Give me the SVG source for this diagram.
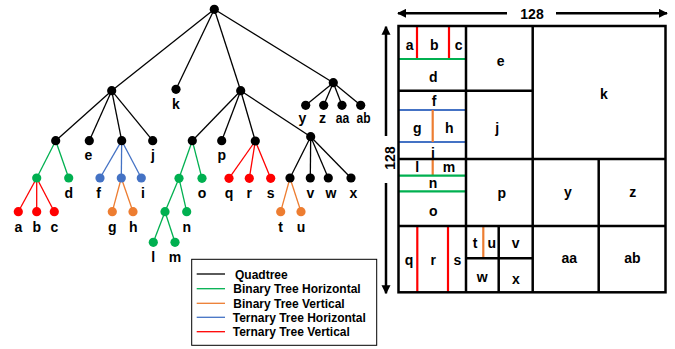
<svg xmlns="http://www.w3.org/2000/svg" width="675" height="349" viewBox="0 0 675 349">
<defs>
<marker id="ah" viewBox="0 0 10 10" refX="9" refY="5" markerWidth="3.6" markerHeight="3.8" orient="auto" markerUnits="strokeWidth">
<path d="M0,0 L10,5 L0,10 z" fill="#000"/>
</marker>
<style>
text{font-family:"Liberation Sans",Arial,sans-serif;font-weight:bold;fill:#000;}
.lb{font-size:14px;text-anchor:middle;}
.lg{font-size:12px;}
.e{stroke:#000;stroke-width:1.3;fill:none;}
.eg{stroke:#00B050;stroke-width:1.3;}
.er{stroke:#FF0000;stroke-width:1.3;}
.eb{stroke:#4472C4;stroke-width:1.3;}
.eo{stroke:#ED7D31;stroke-width:1.3;}
.nk{fill:#000;}
.ng{fill:#00B050;}
.nr{fill:#FF0000;}
.nb{fill:#4472C4;}
.no{fill:#ED7D31;}
.gb{stroke:#000;stroke-width:2.5;fill:none;}
.cg{stroke:#00B050;stroke-width:2.2;}
.cr{stroke:#FF0000;stroke-width:2.2;}
.cb{stroke:#4472C4;stroke-width:2.2;}
.co{stroke:#ED7D31;stroke-width:2.2;}
.ar{stroke:#000;stroke-width:2.5;marker-end:url(#ah);}
</style>
</defs>
<rect width="675" height="349" fill="#fff"/>

<g id="connectors">
<line class="e" x1="214.3" y1="9.3" x2="111.7" y2="90.7"/>
<line class="e" x1="214.3" y1="9.3" x2="176" y2="89.3"/>
<line class="e" x1="214.3" y1="9.3" x2="240.7" y2="90.7"/>
<line class="e" x1="214.3" y1="9.3" x2="333.3" y2="82.7"/>
<line class="e" x1="333.3" y1="82.7" x2="305.7" y2="105.3"/>
<line class="e" x1="333.3" y1="82.7" x2="323.7" y2="105.3"/>
<line class="e" x1="333.3" y1="82.7" x2="342" y2="105.3"/>
<line class="e" x1="333.3" y1="82.7" x2="360.7" y2="105.3"/>
<line class="e" x1="111.7" y1="90.7" x2="55.7" y2="140.7"/>
<line class="e" x1="111.7" y1="90.7" x2="89.3" y2="140.7"/>
<line class="e" x1="111.7" y1="90.7" x2="121.7" y2="140.7"/>
<line class="e" x1="111.7" y1="90.7" x2="152.7" y2="140.7"/>
<line class="e" x1="240.7" y1="90.7" x2="192.3" y2="140.7"/>
<line class="e" x1="240.7" y1="90.7" x2="221.7" y2="140.7"/>
<line class="e" x1="240.7" y1="90.7" x2="255.3" y2="141"/>
<line class="e" x1="240.7" y1="90.7" x2="310.7" y2="136.7"/>
<line class="eg" x1="55.7" y1="140.7" x2="36.7" y2="178"/>
<line class="eg" x1="55.7" y1="140.7" x2="68.7" y2="178"/>
<line class="er" x1="36.7" y1="178" x2="18.3" y2="211.7"/>
<line class="er" x1="36.7" y1="178" x2="36.7" y2="211.7"/>
<line class="er" x1="36.7" y1="178" x2="54.3" y2="211.7"/>
<line class="eb" x1="121.7" y1="140.7" x2="100" y2="178"/>
<line class="eb" x1="121.7" y1="140.7" x2="121.3" y2="178"/>
<line class="eb" x1="121.7" y1="140.7" x2="141.3" y2="178"/>
<line class="eo" x1="121.3" y1="178" x2="112.3" y2="211.7"/>
<line class="eo" x1="121.3" y1="178" x2="133" y2="211.7"/>
<line class="eg" x1="192.3" y1="140.7" x2="179" y2="178.3"/>
<line class="eg" x1="192.3" y1="140.7" x2="202" y2="178.3"/>
<line class="eg" x1="179" y1="178.3" x2="165" y2="211.7"/>
<line class="eg" x1="179" y1="178.3" x2="186.7" y2="211.7"/>
<line class="eg" x1="165" y1="211.7" x2="153.3" y2="242.3"/>
<line class="eg" x1="165" y1="211.7" x2="175" y2="242.3"/>
<line class="er" x1="255.3" y1="141" x2="229" y2="178.3"/>
<line class="er" x1="255.3" y1="141" x2="249.3" y2="178.3"/>
<line class="er" x1="255.3" y1="141" x2="270.7" y2="178.3"/>
<line class="e" x1="310.7" y1="136.7" x2="290" y2="178"/>
<line class="e" x1="310.7" y1="136.7" x2="310.3" y2="178"/>
<line class="e" x1="310.7" y1="136.7" x2="328.3" y2="178"/>
<line class="e" x1="310.7" y1="136.7" x2="351" y2="178"/>
<line class="eo" x1="290" y1="178" x2="280.7" y2="211.7"/>
<line class="eo" x1="290" y1="178" x2="301" y2="211.7"/>
</g>

<g id="tree-nodes">
<g id="n-root"><circle class="nk" cx="214.3" cy="9.3" r="4.6"/></g>
<g id="n-L"><circle class="nk" cx="111.7" cy="90.7" r="4.6"/></g>
<g id="n-k"><circle class="nk" cx="176" cy="89.3" r="4.6"/><text class="lb" x="176" y="109">k</text></g>
<g id="n-M"><circle class="nk" cx="240.7" cy="90.7" r="4.6"/></g>
<g id="n-R"><circle class="nk" cx="333.3" cy="82.7" r="4.6"/></g>
<g id="n-y"><circle class="nk" cx="305.7" cy="105.3" r="4.6"/><text class="lb" x="302.5" y="123">y</text></g>
<g id="n-z"><circle class="nk" cx="323.7" cy="105.3" r="4.6"/><text class="lb" x="322.5" y="123">z</text></g>
<g id="n-aa"><circle class="nk" cx="342" cy="105.3" r="4.6"/><text class="lb" x="342.5" y="123" textLength="13.5" lengthAdjust="spacingAndGlyphs">aa</text></g>
<g id="n-ab"><circle class="nk" cx="360.7" cy="105.3" r="4.6"/><text class="lb" x="363.5" y="123" textLength="14" lengthAdjust="spacingAndGlyphs">ab</text></g>
<g id="n-LA"><circle class="nk" cx="55.7" cy="140.7" r="4.6"/></g>
<g id="n-e"><circle class="nk" cx="89.3" cy="140.7" r="4.6"/><text class="lb" x="88.5" y="159.5">e</text></g>
<g id="n-LC"><circle class="nk" cx="121.7" cy="140.7" r="4.6"/></g>
<g id="n-j"><circle class="nk" cx="152.7" cy="140.7" r="4.6"/><text class="lb" x="153" y="159.5">j</text></g>
<g id="n-MA"><circle class="nk" cx="192.3" cy="140.7" r="4.6"/></g>
<g id="n-p"><circle class="nk" cx="221.7" cy="140.7" r="4.6"/><text class="lb" x="221.7" y="159.5">p</text></g>
<g id="n-MC"><circle class="nk" cx="255.3" cy="141" r="4.6"/></g>
<g id="n-MD"><circle class="nk" cx="310.7" cy="136.7" r="4.6"/></g>
<g id="n-abc"><circle class="ng" cx="36.7" cy="178" r="4.6"/></g>
<g id="n-d"><circle class="ng" cx="68.7" cy="178" r="4.6"/><text class="lb" x="68.7" y="198">d</text></g>
<g id="n-f"><circle class="nb" cx="100" cy="178" r="4.6"/><text class="lb" x="98.7" y="198">f</text></g>
<g id="n-gh"><circle class="nb" cx="121.3" cy="178" r="4.6"/></g>
<g id="n-i"><circle class="nb" cx="141.3" cy="178" r="4.6"/><text class="lb" x="143" y="198">i</text></g>
<g id="n-a"><circle class="nr" cx="18.3" cy="211.7" r="4.6"/><text class="lb" x="18.3" y="232">a</text></g>
<g id="n-b"><circle class="nr" cx="36.7" cy="211.7" r="4.6"/><text class="lb" x="36.7" y="232">b</text></g>
<g id="n-c"><circle class="nr" cx="54.3" cy="211.7" r="4.6"/><text class="lb" x="54.3" y="232">c</text></g>
<g id="n-g"><circle class="no" cx="112.3" cy="211.7" r="4.6"/><text class="lb" x="112.3" y="232">g</text></g>
<g id="n-h"><circle class="no" cx="133" cy="211.7" r="4.6"/><text class="lb" x="133.3" y="232">h</text></g>
<g id="n-lmn"><circle class="ng" cx="179" cy="178.3" r="4.6"/></g>
<g id="n-o"><circle class="ng" cx="202" cy="178.3" r="4.6"/><text class="lb" x="202" y="198">o</text></g>
<g id="n-q"><circle class="nr" cx="229" cy="178.3" r="4.6"/><text class="lb" x="229" y="198">q</text></g>
<g id="n-r"><circle class="nr" cx="249.3" cy="178.3" r="4.6"/><text class="lb" x="249.3" y="198">r</text></g>
<g id="n-s"><circle class="nr" cx="270.7" cy="178.3" r="4.6"/><text class="lb" x="270.7" y="198">s</text></g>
<g id="n-tu"><circle class="nk" cx="290" cy="178" r="4.6"/></g>
<g id="n-v"><circle class="nk" cx="310.3" cy="178" r="4.6"/><text class="lb" x="310.3" y="198">v</text></g>
<g id="n-w"><circle class="nk" cx="328.3" cy="178" r="4.6"/><text class="lb" x="331" y="198">w</text></g>
<g id="n-x"><circle class="nk" cx="351" cy="178" r="4.6"/><text class="lb" x="353.5" y="198">x</text></g>
<g id="n-lm"><circle class="ng" cx="165" cy="211.7" r="4.6"/></g>
<g id="n-n"><circle class="ng" cx="186.7" cy="211.7" r="4.6"/><text class="lb" x="186.7" y="232">n</text></g>
<g id="n-t"><circle class="no" cx="280.7" cy="211.7" r="4.6"/><text class="lb" x="280.7" y="232">t</text></g>
<g id="n-u"><circle class="no" cx="301" cy="211.7" r="4.6"/><text class="lb" x="301" y="232">u</text></g>
<g id="n-l"><circle class="ng" cx="153.3" cy="242.3" r="4.6"/><text class="lb" x="153.3" y="262">l</text></g>
<g id="n-m"><circle class="ng" cx="175" cy="242.3" r="4.6"/><text class="lb" x="175" y="262">m</text></g>
</g>

<g id="legend">
<rect x="191.7" y="259.3" width="185" height="86" fill="#fff" stroke="#000" stroke-width="1"/>
<line x1="196.7" y1="274" x2="225" y2="274" stroke="#000" stroke-width="1.3"/>
<line x1="196.7" y1="288.7" x2="225" y2="288.7" stroke="#00B050" stroke-width="1.3"/>
<line x1="196.7" y1="303.3" x2="225" y2="303.3" stroke="#ED7D31" stroke-width="1.3"/>
<line x1="196.7" y1="317.3" x2="225" y2="317.3" stroke="#4472C4" stroke-width="1.3"/>
<line x1="196.7" y1="331.7" x2="225" y2="331.7" stroke="#FF0000" stroke-width="1.3"/>
<text class="lg" x="235" y="278.5">Quadtree</text>
<text class="lg" x="233.3" y="293">Binary Tree Horizontal</text>
<text class="lg" x="233.3" y="307.5">Binary Tree Vertical</text>
<text class="lg" x="232.7" y="321.7">Ternary Tree Horizontal</text>
<text class="lg" x="232.7" y="336">Ternary Tree Vertical</text>
</g>

<g id="dimensions">
<line class="ar" x1="507" y1="13.3" x2="398" y2="13.3"/>
<line class="ar" x1="556" y1="13.3" x2="667" y2="13.3"/>
<text class="lb" x="532" y="19">128</text>
<line class="ar" x1="386" y1="136" x2="386" y2="26.7"/>
<line class="ar" x1="386" y1="183" x2="386" y2="293.3"/>
<text class="lb" transform="translate(394.5,158) rotate(-90)" x="0" y="0">128</text>
</g>

<g id="partition">
<g id="split-lines">
<line class="cr" x1="417" y1="26" x2="417" y2="59"/>
<line class="cr" x1="449" y1="26" x2="449" y2="59"/>
<line class="cg" x1="398.5" y1="59" x2="465.5" y2="59"/>
<line class="cb" x1="398.5" y1="110" x2="465.5" y2="110"/>
<line class="cb" x1="398.5" y1="142" x2="465.5" y2="142"/>
<line class="co" x1="432.7" y1="110" x2="432.7" y2="142"/>
<line class="co" x1="432.7" y1="159" x2="432.7" y2="175.7"/>
<line class="cg" x1="398.5" y1="175.7" x2="465.5" y2="175.7"/>
<line class="cg" x1="398.5" y1="191.3" x2="465.5" y2="191.3"/>
<line class="cr" x1="417.3" y1="226" x2="417.3" y2="292.3"/>
<line class="cr" x1="448" y1="226" x2="448" y2="292.3"/>
<line class="co" x1="483.3" y1="226" x2="483.3" y2="258.3"/>
</g>
<g id="quad-lines">
<rect class="gb" x="398.5" y="26" width="267" height="266.3"/>
<line class="gb" x1="398.5" y1="159" x2="665.5" y2="159"/>
<line class="gb" x1="532.7" y1="26" x2="532.7" y2="292.3"/>
<line class="gb" x1="466" y1="26" x2="466" y2="292.3"/>
<line class="gb" x1="398.5" y1="90.7" x2="532.7" y2="90.7"/>
<line class="gb" x1="398.5" y1="226" x2="665.5" y2="226"/>
<line class="gb" x1="598.7" y1="159" x2="598.7" y2="292.3"/>
<line class="gb" x1="498.7" y1="226" x2="498.7" y2="292.3"/>
<line class="gb" x1="466" y1="258.3" x2="532.7" y2="258.3"/>
</g>
<g id="cell-labels">
<text class="lb" x="409.7" y="50">a</text>
<text class="lb" x="434.3" y="50">b</text>
<text class="lb" x="458.7" y="50">c</text>
<text class="lb" x="433.3" y="81.7">d</text>
<text class="lb" x="500.7" y="65.7">e</text>
<text class="lb" x="434" y="106">f</text>
<text class="lb" x="417.3" y="133">g</text>
<text class="lb" x="449.3" y="133">h</text>
<text class="lb" x="433" y="157.5">i</text>
<text class="lb" x="497.3" y="133">j</text>
<text class="lb" x="604" y="99">k</text>
<text class="lb" x="417.3" y="172">l</text>
<text class="lb" x="449" y="172">m</text>
<text class="lb" x="433" y="188">n</text>
<text class="lb" x="433.3" y="215.7">o</text>
<text class="lb" x="501.7" y="198">p</text>
<text class="lb" x="568" y="197">y</text>
<text class="lb" x="632.7" y="197">z</text>
<text class="lb" x="409" y="265">q</text>
<text class="lb" x="433.3" y="265">r</text>
<text class="lb" x="457.3" y="265">s</text>
<text class="lb" x="475" y="248.3">t</text>
<text class="lb" x="491.7" y="248.3">u</text>
<text class="lb" x="515.7" y="248.3">v</text>
<text class="lb" x="482.3" y="282">w</text>
<text class="lb" x="516" y="284">x</text>
<text class="lb" x="569.3" y="263.3">aa</text>
<text class="lb" x="632.3" y="263.3">ab</text>
</g>
</g>
</svg>
